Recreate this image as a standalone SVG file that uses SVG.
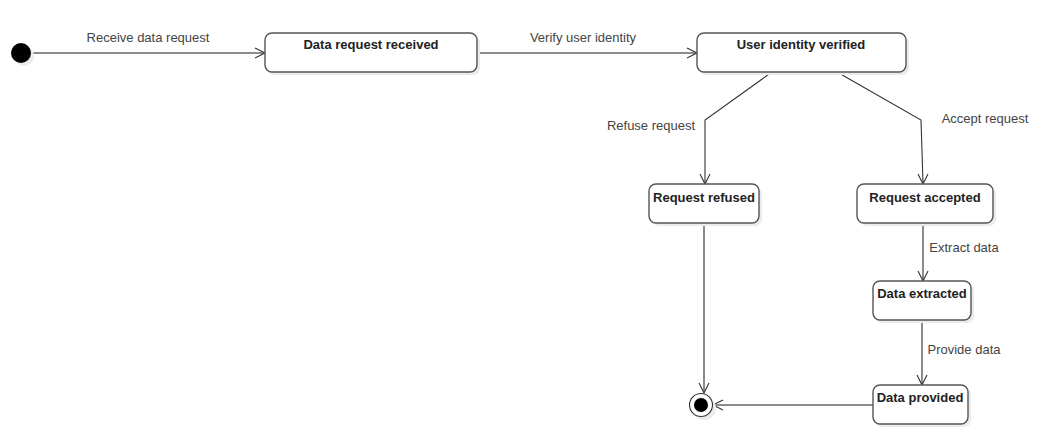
<svg xmlns="http://www.w3.org/2000/svg" width="1050" height="444" viewBox="0 0 1050 444">
<style>
.st{fill:#fff;stroke:#555;stroke-width:1.4}
.sh{fill:#ebebeb;stroke:none}
.nt{font-family:"Liberation Sans",Arial,sans-serif;font-size:13px;font-weight:bold;fill:#222;text-anchor:middle}
.el{font-family:"Liberation Sans",Arial,sans-serif;font-size:13px;fill:#444;text-anchor:middle}
.e{fill:none;stroke:#666;stroke-width:1.5}
.d{fill:none;stroke:#333;stroke-width:1.1}
.ah{fill:none;stroke:#333;stroke-width:1.1}
</style>
<rect width="1050" height="444" fill="#fff"/>
<g id="connectors">
<path class="e" d="M31,53 H264"/><path class="ah" d="M255,48 L265,53 L255,58"/>
<path class="e" d="M477,53 H696"/><path class="ah" d="M687,48 L697,53 L687,58"/>
<path class="d" d="M772,72 L705,120 L705,183"/><path class="ah" d="M700,174 L705,184 L710,174"/>
<path class="d" d="M837,72 L921,120 L923,183"/><path class="ah" d="M918,174 L923,184 L928,174"/>
<path class="e" d="M923,223 V280"/><path class="ah" d="M918,271 L923,281 L928,271"/>
<path class="e" d="M922,320 V384"/><path class="ah" d="M917,375 L922,385 L927,375"/>
<path class="e" d="M704,223 V392"/><path class="ah" d="M699,383 L704,393 L709,383"/>
<path class="e" d="M873,405 H714"/><path class="ah" d="M723,400 L713,405 L723,410"/>
<text class="el" x="148" y="42">Receive data request</text>
<text class="el" x="583" y="42">Verify user identity</text>
<text class="el" x="651" y="130">Refuse request</text>
<text class="el" x="985" y="123">Accept request</text>
<text class="el" x="964" y="252">Extract data</text>
<text class="el" x="964" y="354">Provide data</text>
</g>
<g id="start">
<circle class="sh" cx="24" cy="56" r="10"/>
<circle cx="21" cy="53" r="10" fill="#000"/>
</g>
<g id="n1">
<rect class="sh" x="268" y="36" width="212" height="39" rx="7"/>
<rect class="st" x="265" y="33" width="212" height="39" rx="7"/>
<text class="nt" x="371" y="49">Data request received</text>
</g>
<g id="n2">
<rect class="sh" x="700" y="36" width="209" height="39" rx="7"/>
<rect class="st" x="697" y="33" width="209" height="39" rx="7"/>
<text class="nt" x="801" y="49">User identity verified</text>
</g>
<g id="n3">
<rect class="sh" x="652" y="187" width="110" height="39" rx="7"/>
<rect class="st" x="649" y="184" width="110" height="39" rx="7"/>
<text class="nt" x="704" y="202">Request refused</text>
</g>
<g id="n4">
<rect class="sh" x="860" y="187" width="136" height="39" rx="7"/>
<rect class="st" x="857" y="184" width="136" height="39" rx="7"/>
<text class="nt" x="925" y="202">Request accepted</text>
</g>
<g id="n5">
<rect class="sh" x="876" y="284" width="98" height="39" rx="7"/>
<rect class="st" x="873" y="281" width="98" height="39" rx="7"/>
<text class="nt" x="922" y="298">Data extracted</text>
</g>
<g id="n6">
<rect class="sh" x="876" y="388" width="95" height="39" rx="7"/>
<rect class="st" x="873" y="385" width="95" height="39" rx="7"/>
<text class="nt" x="920" y="402">Data provided</text>
</g>
<g id="end">
<circle class="sh" cx="704" cy="408" r="12"/>
<circle cx="701" cy="405" r="11.5" fill="#fff" stroke="#333" stroke-width="1.1"/>
<circle cx="701" cy="405" r="7" fill="#000"/>
</g>
</svg>
